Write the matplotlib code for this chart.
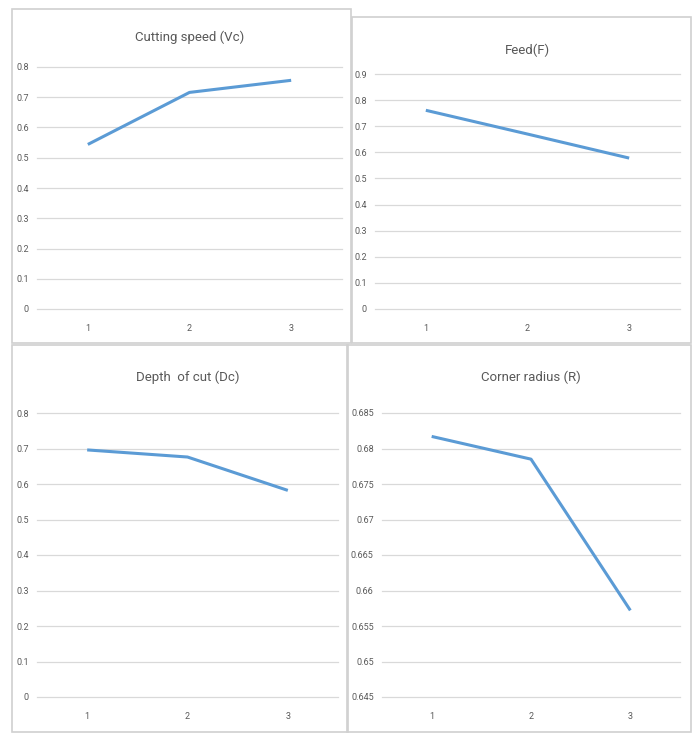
import matplotlib
matplotlib.use("Agg")
import matplotlib.pyplot as plt
from matplotlib.patches import Rectangle

levels = [1, 2, 3]
titles = ["Cutting speed (Vc)", "Feed(F)", "Depth  of cut (Dc)", "Corner radius (R)"]
cutting_speed = [0.544, 0.716, 0.756]
feed = [0.761, 0.670, 0.578]
depth_of_cut = [0.696, 0.676, 0.582]
corner_radius = [0.6817, 0.6785, 0.6572]
series = [cutting_speed, feed, depth_of_cut, corner_radius]
ylims = [(0, 0.8), (0, 0.9), (0, 0.8), (0.645, 0.685)]
ysteps = [0.1, 0.1, 0.1, 0.005]

plt.rcParams['font.family'] = ["Roboto", "DejaVu Sans"]

W, H = 692, 733
fig = plt.figure(figsize=(W / 100, H / 100), dpi=100)

def fx(x):
    return x / W

def fy(y):
    return 1 - y / H

# panel frames (pixels: x0, y0, x1, y1)
frames = [(12, 9, 351, 343), (352, 17, 691, 343), (12, 345, 348, 732), (347, 345, 691, 732)]
for x0, y0, x1, y1 in frames:
    fig.patches.append(Rectangle((fx(x0), fy(y1)), fx(x1 - x0), (y1 - y0) / H,
                                 transform=fig.transFigure, fill=False,
                                 edgecolor="#d0d0d0", linewidth=1.2))

# axes areas (pixels: left, top, right, bottom)
areas = [(37, 67, 342, 309), (375, 74, 680, 309), (37, 413, 338, 697), (382, 413, 680, 697)]
title_y = [37, 50, 377, 377]
ypads = [6, 6, 6, 6]
grey = "#595959"
for i, (l, t, r, b) in enumerate(areas):
    ax = fig.add_axes([fx(l), fy(b), fx(r - l), (b - t) / H])
    ax.plot(levels, series[i], color="#5b9bd5", linewidth=2.2, solid_capstyle="butt")
    lo, hi = ylims[i]
    ax.set_ylim(lo, hi)
    ax.set_xlim(0.5, 3.5)
    n = int(round((hi - lo) / ysteps[i]))
    ticks = [lo + k * ysteps[i] for k in range(n + 1)]
    ax.set_yticks(ticks)
    ax.set_yticklabels(["{:g}".format(round(v, 3)) for v in ticks])
    ax.set_xticks(levels)
    ax.set_xticklabels([str(v) for v in levels])
    ax.grid(axis="y", color="#d9d9d9", linewidth=0.9)
    for gl in ax.get_ygridlines():
        gl.set_clip_on(False)
    ax.set_axisbelow(True)
    for s in ax.spines.values():
        s.set_visible(False)
    ax.tick_params(length=0, labelsize=6.5, colors=grey)
    ax.tick_params(axis="y", pad=ypads[i])
    ax.tick_params(axis="x", pad=11)
    fig.text(fx((l + r) / 2), fy(title_y[i]), titles[i], ha="center", va="center",
             fontsize=9.5, color=grey)

fig.savefig("out.png", dpi=100, facecolor="white")
